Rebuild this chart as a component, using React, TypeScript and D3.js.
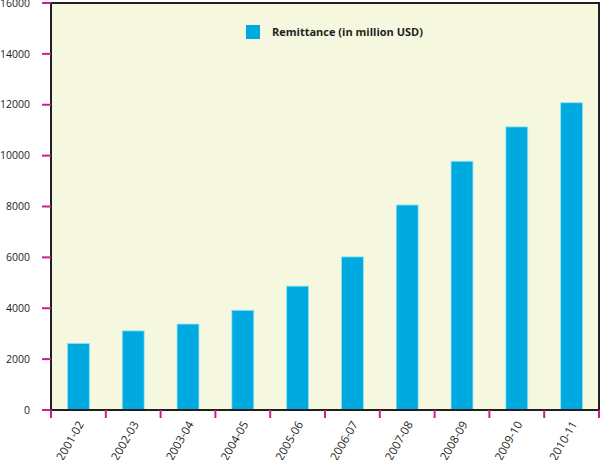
import React from "react";
import * as d3 from "d3";

const categories = ["2001-02","2002-03","2003-04","2004-05","2005-06","2006-07","2007-08","2008-09","2009-10","2010-11"];
const remittance = [2620, 3110, 3380, 3920, 4870, 6020, 8060, 9780, 11130, 12080];
const yTicks = [0, 2000, 4000, 6000, 8000, 10000, 12000, 14000, 16000];
const seriesName = "Remittance (in million USD)";

const W = 601, H = 460;
const left = 51, right = 599, top = 3, bottom = 410;

export default function App() {
  const x = d3.scaleBand<string>().domain(categories).range([left, right]).paddingInner(0.6).paddingOuter(0.3);
  const y = d3.scaleLinear().domain([0, 16000]).range([bottom, top]);
  const step = x.step();
  const off = (step - x.bandwidth()) / 2;
  const boundaries = categories.map((c) => (x(c) as number) - off).concat([right]);
  const font = "'Open Sans', 'Noto Sans', sans-serif";
  const pink = "#c81f8a";
  return (
    <div style={{ position: "absolute", left: 0, top: 0 }}>
      <svg width={W} height={H} style={{ display: "block", background: "#fff" }}>
        <rect x={left} y={top} width={right - left} height={bottom - top} fill="#f5f7df" />
        {categories.map((c, i) => (
          <rect key={c} x={x(c)} y={y(remittance[i])} width={x.bandwidth()} height={bottom - y(remittance[i])}
            fill="#00a9e0" stroke="#93e6f4" strokeWidth={0.8} />
        ))}
        <rect x={left} y={top} width={right - left} height={bottom - top} fill="none" stroke="#231f20" strokeWidth={2} />
        {yTicks.map((t) => (
          <g key={t}>
            <line x1={42} x2={left} y1={y(t)} y2={y(t)} stroke={pink} strokeWidth={2} />
            <text x={30} y={y(t)} dy="0.35em" textAnchor="end" fontFamily={font} fontSize={10.5} fill="#231f20">{t}</text>
          </g>
        ))}
        {boundaries.map((b, i) => (
          <line key={i} x1={b} x2={b} y1={bottom} y2={418} stroke={pink} strokeWidth={2} />
        ))}
        {categories.map((c) => {
          const cx = (x(c) as number) + x.bandwidth() / 2 + 6;
          const cy = 424;
          return (
            <text key={c} x={cx} y={cy} textAnchor="end" fontFamily={font} fontSize={11.5} fill="#231f20"
              transform={`rotate(-60 ${cx} ${cy})`}>{c}</text>
          );
        })}
        <rect x={246} y={25} width={14} height={14} fill="#00a9e0" />
        <text x={272} y={32} dy="0.35em" fontFamily={font} fontSize={11} fontWeight="bold" fill="#231f20">{seriesName}</text>
      </svg>
    </div>
  );
}
